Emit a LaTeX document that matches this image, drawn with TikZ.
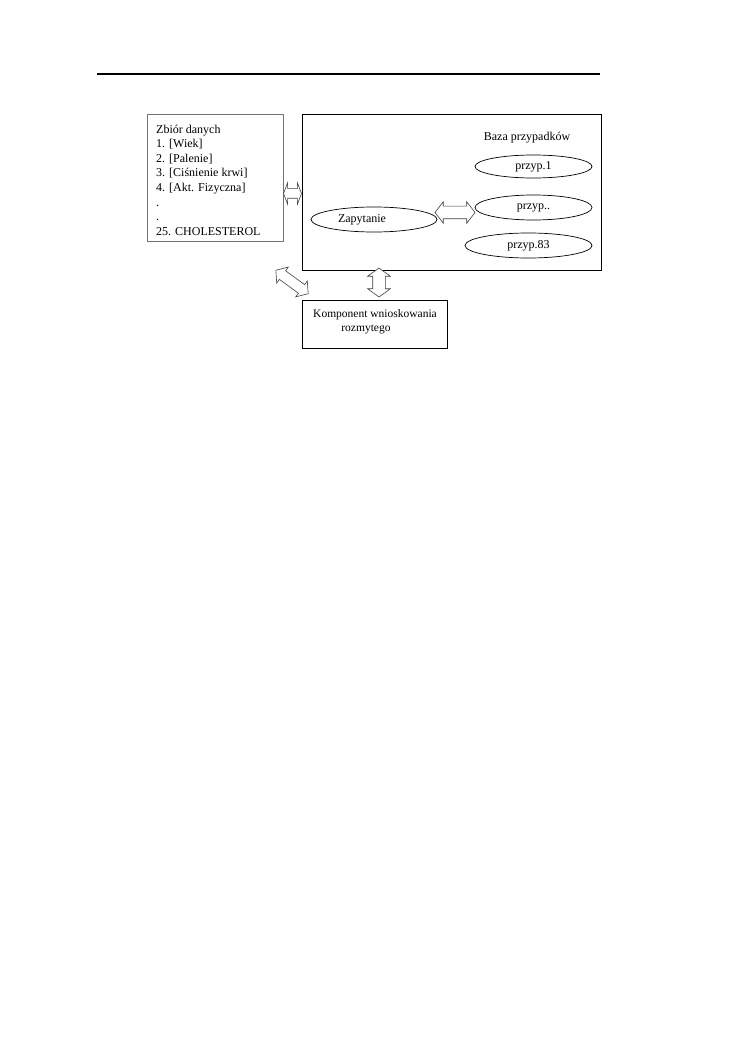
\documentclass[tikz,border=0pt]{standalone}
\usepackage{fontspec}
\setmainfont{Liberation Serif}
\usetikzlibrary{shapes.geometric,shapes.arrows,calc}
\begin{document}
\begin{tikzpicture}[x=1pt,y=-1pt,
  box/.style={draw, line width=0.8pt, inner sep=0pt},
  ell/.style={draw, ellipse, line width=0.7pt, inner sep=0pt, font=\fontsize{12}{14}\selectfont},
  dbl/.style={double arrow, draw=black!75, fill=white, line width=0.6pt, inner xsep=0pt},
  txt/.style={inner sep=0pt, font=\fontsize{12}{14.6}\selectfont}]
\useasboundingbox (0,0) rectangle (749,1064);
\draw[line width=1.2pt] (97,74) coordinate (r1) -- (600,74) coordinate (r2);
% boxes
\node[box, draw=black!55, minimum width=136pt, minimum height=127pt] (left) at (215,177.5) {};
\node[box, minimum width=299pt, minimum height=156pt] (big) at (451.5,192) {};
\node[box, minimum width=145pt, minimum height=48pt] (comp) at (374.5,324) {};
% texts
\node[txt, anchor=north west, align=left] (list) at (156,124.5)
  {Zbiór danych\\1. [Wiek]\\2. [Palenie]\\3. [Ciśnienie krwi]\\4. [Akt. Fizyczna]\\.\\.\\25. CHOLESTEROL};
\node[txt] (baza) at (527,138) {Baza przypadków};
\node[txt, align=center, font=\fontsize{11.5}{14}\selectfont] (comptxt) at (375,322)
  {Komponent wnioskowania\\rozmytego\hspace*{18pt}};
% ellipses
\node[ell, minimum width=126pt, minimum height=25pt] (zap) at (374,219.5) {Zapytanie\hspace*{24pt}};
\node[ell, minimum width=117pt, minimum height=23pt] (p1) at (533.5,166.5) {przyp.1};
\node[ell, minimum width=117pt, minimum height=25pt] (p2) at (533.5,207.5) {przyp..};
\node[ell, minimum width=127pt, minimum height=25pt] (p3) at (528.5,245.5) {przyp.83};
% double arrows
\node[dbl, minimum height=18pt, inner ysep=4.5pt, double arrow head extend=6pt, double arrow tip angle=138] (a1) at (292.5,193.5) {};
\node[dbl, minimum height=40pt, inner ysep=6pt, double arrow head extend=4.5pt, double arrow tip angle=105] (a2) at (455,212.5) {};
\node[dbl, rotate=90, minimum height=29pt, inner ysep=6pt, double arrow head extend=5pt, double arrow tip angle=108] (a3) at (379,282.5) {};
\node[dbl, rotate=-36, minimum height=40pt, inner ysep=5pt, double arrow head extend=4.5pt, double arrow tip angle=100] (a4) at (292,282) {};
\end{tikzpicture}
\end{document}
